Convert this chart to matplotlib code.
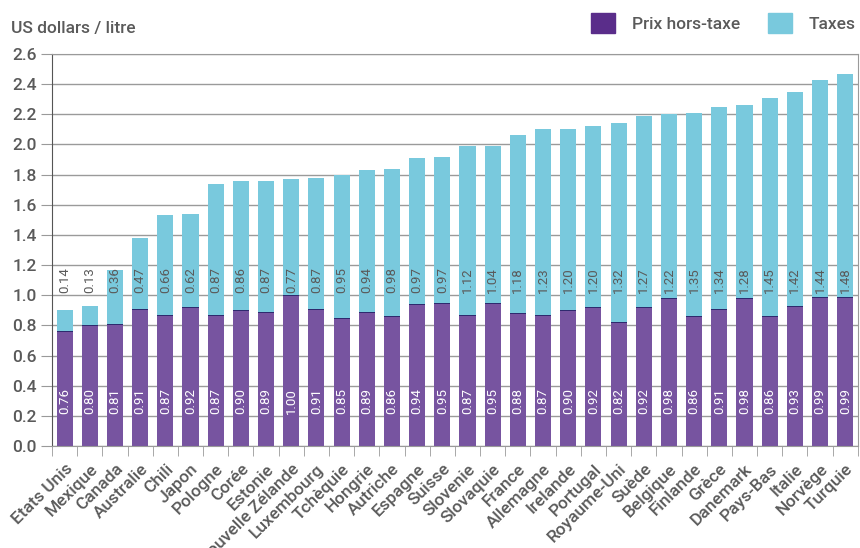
import numpy as np
import matplotlib.pyplot as plt
from matplotlib.patches import Patch

plt.rcParams['font.family'] = ['Roboto', 'DejaVu Sans']

# Data (US dollars / litre)
pays = ["Etats Unis", "Mexique", "Canada", "Australie", "Chili", "Japon", "Pologne",
        "Corée", "Estonie", "Nouvelle Zélande", "Luxembourg", "Tchèquie", "Hongrie",
        "Autriche", "Espagne", "Suisse", "Slovenie", "Slovaquie", "France", "Allemagne",
        "Irelande", "Portugal", "Royaume-Uni", "Suède", "Belgique", "Finlande", "Grèce",
        "Danemark", "Pays-Bas", "Italie", "Norvège", "Turquie"]
prix_ht = [0.76, 0.80, 0.81, 0.91, 0.87, 0.92, 0.87, 0.90, 0.89, 1.00, 0.91, 0.85, 0.89,
           0.86, 0.94, 0.95, 0.87, 0.95, 0.88, 0.87, 0.90, 0.92, 0.82, 0.92, 0.98, 0.86,
           0.91, 0.98, 0.86, 0.93, 0.99, 0.99]
taxes = [0.14, 0.13, 0.36, 0.47, 0.66, 0.62, 0.87, 0.86, 0.87, 0.77, 0.87, 0.95, 0.94,
         0.98, 0.97, 0.97, 1.12, 1.04, 1.18, 1.23, 1.20, 1.20, 1.32, 1.27, 1.22, 1.35,
         1.34, 1.28, 1.45, 1.42, 1.44, 1.48]

c_prix = "#7754a0"
c_tax = "#79c9dd"
c_text = "#5a5a5a"
c_grid = "#9a9a9a"

fig = plt.figure(figsize=(8.6, 5.48), dpi=100)
ax = fig.add_axes([0.0605, 0.1861, 0.937, 0.7154])

x = np.arange(len(pays))
ax.bar(x, prix_ht, width=0.64, color=c_prix, edgecolor="none", zorder=2)
ax.bar(x, taxes, width=0.64, bottom=prix_ht, color=c_tax, edgecolor="none", zorder=2)
# thin dark line on top of the purple part
ax.bar(x, 0.006, width=0.64, bottom=np.array(prix_ht) - 0.006, color="#2e2a6e",
       edgecolor="none", zorder=3)

for i in range(len(pays)):
    ax.text(x[i], 0.30, f"{prix_ht[i]:.2f}", rotation=90, ha="center", va="center",
            color="white", fontsize=9.5, zorder=4)
    ax.text(x[i], 1.10, f"{taxes[i]:.2f}", rotation=90, ha="center", va="center",
            color=c_text, fontsize=9.5, zorder=4)

ax.set_xlim(-0.5, len(pays) - 0.5)
ax.set_ylim(0, 2.6)
ax.set_yticks(np.arange(0, 2.61, 0.2))
ax.set_yticklabels([f"{v:.1f}" for v in np.arange(0, 2.61, 0.2)], fontsize=12.5,
                   color=c_text, fontweight="medium")
ax.grid(axis="y", color=c_grid, linewidth=1, zorder=0)
ax.tick_params(axis="y", length=8, color=c_grid, pad=3)

ax.set_xticks(x)
ax.set_xticklabels(pays, rotation=45, ha="right", rotation_mode="anchor",
                   fontsize=12.5, color=c_text, fontweight="medium")
ax.set_xticks(np.arange(-0.5, len(pays), 1), minor=True)
ax.tick_params(axis="x", which="major", length=0, pad=11)
ax.tick_params(axis="x", which="minor", length=7, color=c_grid)

ax.spines["left"].set_color("#555555")
for s in ["bottom", "right", "top"]:
    ax.spines[s].set_color(c_grid)

fig.text(0.013, 0.948, "US dollars / litre", fontsize=12.5, color=c_text, va="center",
         fontweight="medium")

handles = [Patch(color="#5a2d8a", label="Prix hors-taxe"), Patch(color=c_tax, label="Taxes")]
fig.legend(handles=handles, loc="upper right", bbox_to_anchor=(1.013, 1.005), ncol=2,
           frameon=False, handlelength=1.4, handleheight=1.4, handletextpad=0.95,
           columnspacing=1.6, labelcolor=c_text,
           prop={"size": 12.5, "weight": "medium"})

fig.savefig("out.png", dpi=100)
